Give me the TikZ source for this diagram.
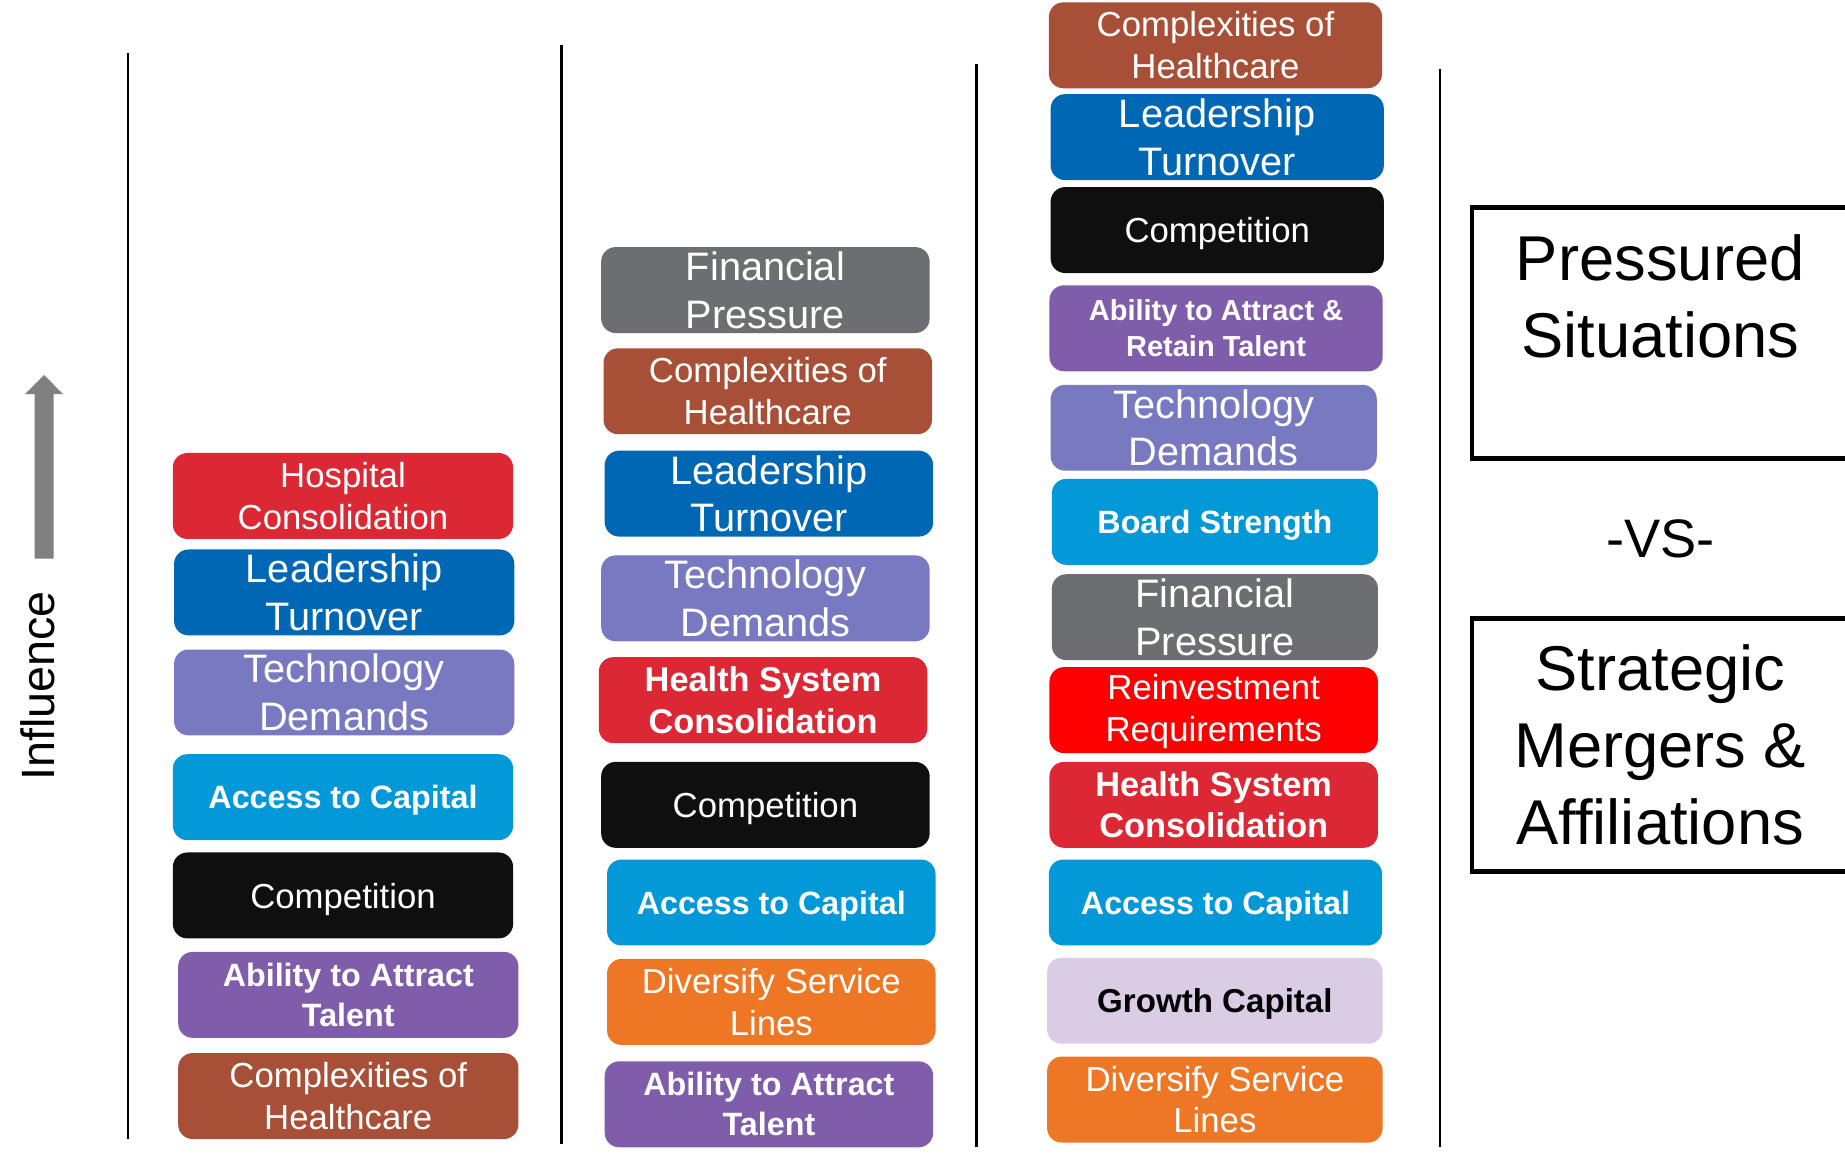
\documentclass[tikz,border=0pt]{standalone}
\usepackage{fontspec}
\setmainfont{Liberation Sans}
\usepackage{xcolor}
\usetikzlibrary{positioning}
\definecolor{hred}{HTML}{DC2834}
\definecolor{lblue}{HTML}{0067B4}
\definecolor{tech}{HTML}{7879C1}
\definecolor{capblue}{HTML}{0398D8}
\definecolor{comp}{HTML}{0F0F0F}
\definecolor{attr}{HTML}{7F5DAB}
\definecolor{cplx}{HTML}{A84F37}
\definecolor{fin}{HTML}{6D6E71}
\definecolor{divs}{HTML}{EE7726}
\definecolor{reinv}{HTML}{FF0000}
\definecolor{grow}{HTML}{D9CCE4}
\definecolor{arrowgray}{HTML}{808080}
\tikzset{
  fac/.style={rounded corners=3.5pt, text=white, align=center, inner sep=0pt, minimum height=0.73cm},
  c1/.style={fac, minimum width=2.89cm},
  c2/.style={fac, minimum width=2.79cm},
  c3/.style={fac, minimum width=2.83cm},
  one/.style={text depth=0pt},
  big/.style={font=\fontsize{9.6}{11.5}\selectfont},
  sml/.style={font=\fontsize{8.4}{10.1}\selectfont},
  bld/.style={font=\fontsize{7.8}{9.7}\selectfont\bfseries},
  sep/.style={line width=0.6pt, draw=black},
  frame/.style={line width=1.2pt, draw=black},
  head/.style={font=\fontsize{15.3}{18.5}\selectfont, align=center},
}

\begin{document}
\begin{tikzpicture}[x=0.01cm, y=-0.01cm]
  \fill[white] (0,0) rectangle (1568,981);
  \useasboundingbox (0,0) rectangle (1568,981);

  % influence arrow
  \fill[arrowgray] (29.4,474.8) -- (29.4,335) -- (21.3,335) -- (37.5,318.7)
    -- (53.6,335) -- (45.5,335) -- (45.5,474.8) -- cycle;
  \node[rotate=90, font=\fontsize{11.3}{13}\selectfont] (infl) at (32,583) {Influence};

  % column separators
  \draw[sep] (109,45) -- (109,968);
  \draw[sep] (477,38) -- (477,972);
  \draw[sep] (830,54) -- (830,975);
  \draw[sep] (1224,59) -- (1224,975);

  % first column
  \node[c1, sml, fill=hred]  (hosp1) at (291.5,421.5) {Hospital\\Consolidation};
  \node[c1, big, fill=lblue] (lead1) at (292.5,503.5) {Leadership\\Turnover};
  \node[c1, big, fill=tech]  (tech1) at (292.5,588.5) {Technology\\Demands};
  \node[c1, bld, one, fill=capblue] (acc1)  at (291.5,677.5) {Access to Capital};
  \node[c1, sml, one, fill=comp]    (comp1) at (291.5,761)   {Competition};
  \node[c1, bld, fill=attr]  (attr1) at (296,845.5)   {Ability to Attract\\Talent};
  \node[c1, sml, fill=cplx]  (cplx1) at (296,931.5)   {Complexities of\\Healthcare};

  % second column
  \node[c2, big, fill=fin]   (fin2)  at (650.5,246.5) {Financial\\Pressure};
  \node[c2, sml, fill=cplx]  (cplx2) at (652.5,332.5) {Complexities of\\Healthcare};
  \node[c2, big, fill=lblue] (lead2) at (653.5,419.5) {Leadership\\Turnover};
  \node[c2, big, fill=tech]  (tech2) at (650.5,508.5) {Technology\\Demands};
  \node[c2, bld, fill=hred, font=\fontsize{8.3}{10}\selectfont\bfseries]
                             (hsc2)  at (648.5,595) {Health System\\Consolidation};
  \node[c2, sml, one, fill=comp]    (comp2) at (650.5,684)   {Competition};
  \node[c2, bld, one, fill=capblue] (acc2)  at (655.5,767)   {Access to Capital};
  \node[c2, sml, fill=divs]  (divs2) at (655.5,851.5) {Diversify Service\\Lines};
  \node[c2, bld, fill=attr]  (attr2) at (653.5,938.5) {Ability to Attract\\Talent};

  % third column
  \node[c3, sml, fill=cplx]  (cplx3) at (1033,38.5)    {Complexities of\\Healthcare};
  \node[c3, big, fill=lblue] (lead3) at (1034.5,116.5) {Leadership\\Turnover};
  \node[c3, sml, one, fill=comp]  (comp3) at (1034.5,195.5) {Competition};
  \node[c3, bld, fill=attr, font=\fontsize{7.0}{8.6}\selectfont\bfseries]
                             (attr3) at (1033.5,279)   {Ability to Attract \&\\Retain Talent};
  \node[c3, big, fill=tech, minimum width=2.77cm]  (tech3) at (1031.5,363.5) {Technology\\Demands};
  \node[c3, bld, one, fill=capblue, minimum width=2.77cm] (brd3) at (1032.5,443.5) {Board Strength};
  \node[c3, big, fill=fin, minimum width=2.77cm]   (fin3)  at (1032.5,524.5) {Financial\\Pressure};
  \node[c3, sml, fill=reinv, minimum width=2.79cm] (rein3) at (1031.5,603.5) {\rule{0pt}{1.5ex}Reinvestment\\Requirements};
  \node[c3, bld, fill=hred, minimum width=2.79cm, font=\fontsize{8.3}{10}\selectfont\bfseries]
                             (hsc3)  at (1031.5,684) {Health System\\Consolidation};
  \node[c3, bld, one, fill=capblue] (acc3) at (1033,767) {Access to Capital};
  \node[c3, bld, one, fill=grow, text=black, minimum width=2.85cm, font=\fontsize{8.0}{9.7}\selectfont\bfseries]
                             (grow3) at (1032.5,850.5) {Growth Capital};
  \node[c3, sml, fill=divs, minimum width=2.85cm]  (divs3) at (1032.5,934.5) {Diversify Service\\Lines};

  % outcome boxes
  \draw[frame] (1251,176) rectangle (1600,390);
  \node[head] (press) at (1411,252) {Pressured\\Situations};
  \node[font=\fontsize{13.1}{15}\selectfont] (vs) at (1411,458) {-VS-};
  \draw[frame] (1251,526) rectangle (1600,741);
  \node[head] (strat) at (1411,633) {Strategic\\Mergers \&\\Affiliations};
\end{tikzpicture}
\end{document}
